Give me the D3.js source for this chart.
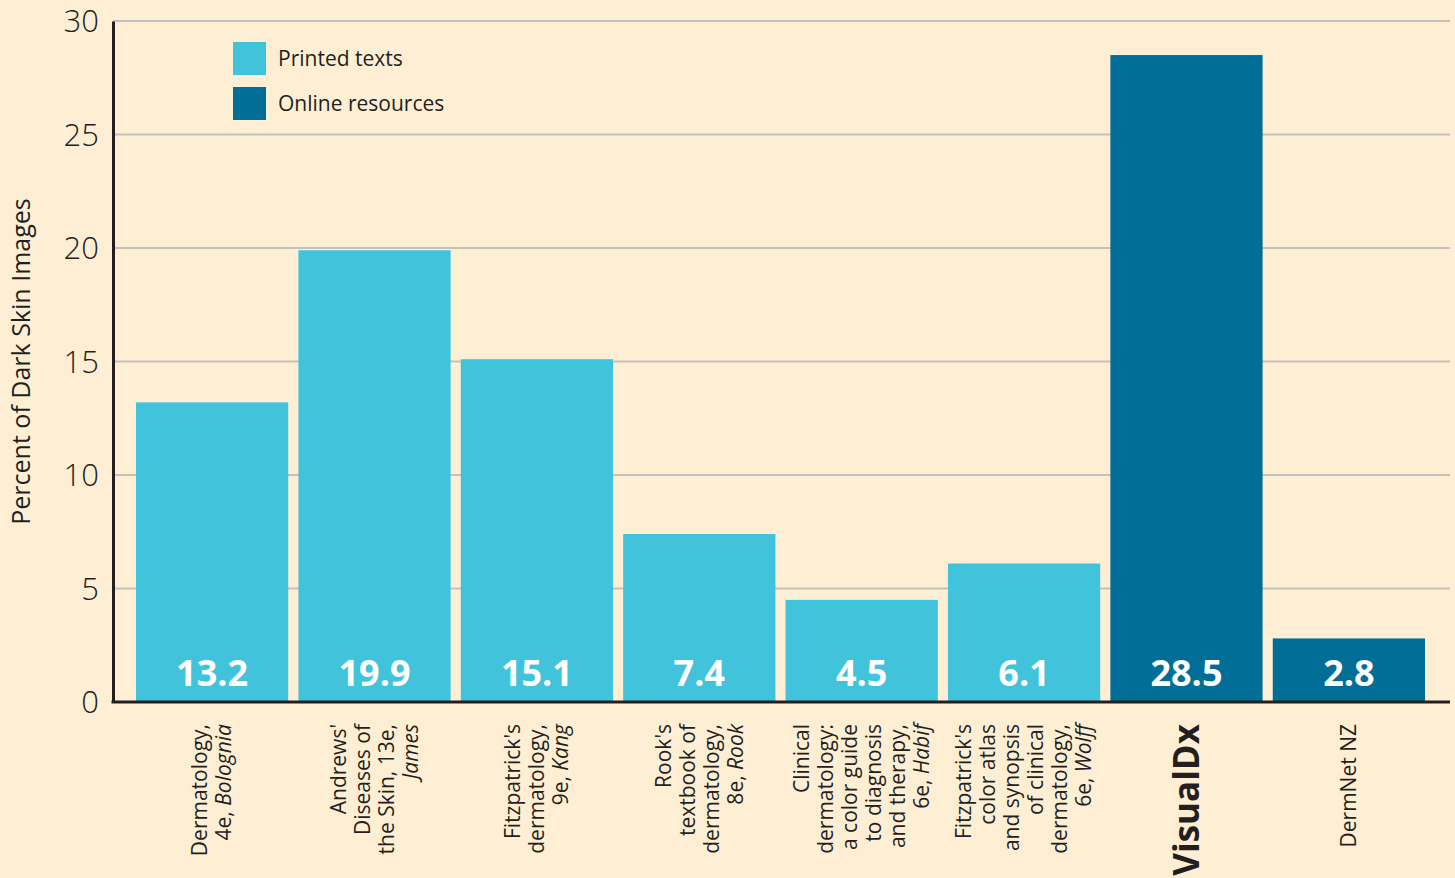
<!DOCTYPE html>
<html>
<head>
<meta charset="UTF-8">
<script src="https://d3js.org/d3.v7.min.js"></script>
<style>
  body { margin: 0; background: #FEEFD4; }
  svg text { font-family: "Open Sans", sans-serif; fill: #231F20; }
</style>
</head>
<body>
<svg class="Chart" width="1455" height="878"></svg>
<script>
// category labels: each line is [text, italicPart]
var categories = [
  [["Dermatology,", ""], ["4e, ", "Bolognia"]],
  [["Andrews'", ""], ["Diseases of", ""], ["the Skin, 13e,", ""], ["", "James"]],
  [["Fitzpatrick's", ""], ["dermatology,", ""], ["9e, ", "Kang"]],
  [["Rook's", ""], ["textbook of", ""], ["dermatology,", ""], ["8e, ", "Rook"]],
  [["Clinical", ""], ["dermatology:", ""], ["a color guide", ""], ["to diagnosis", ""], ["and therapy,", ""], ["6e, ", "Habif"]],
  [["Fitzpatrick's", ""], ["color atlas", ""], ["and synopsis", ""], ["of clinical", ""], ["dermatology,", ""], ["6e, ", "Wolff"]],
  [["VisualDx", ""]],
  [["DermNet NZ", ""]]
];
var values = [13.2, 19.9, 15.1, 7.4, 4.5, 6.1, 28.5, 2.8];
var types = ["Printed texts", "Printed texts", "Printed texts", "Printed texts", "Printed texts", "Printed texts", "Online resources", "Online resources"];
var seriesNames = ["Printed texts", "Online resources"];
var yTicks = [0, 5, 10, 15, 20, 25, 30];

var Color = d3.scaleOrdinal().domain(seriesNames).range(["#42C3DC", "#006E97"]);

var Left = 113, Right = 1450, Top = 21, Bottom = 702;
var svg = d3.select(".Chart");

var XScale = d3.scaleBand()
  .domain(d3.range(values.length))
  .range([136, 1425])
  .paddingInner(0.0625)
  .paddingOuter(0);
var YScale = d3.scaleLinear().domain([0, 30]).range([Bottom, Top]);

// grid lines
svg.append("g")
  .selectAll("line")
  .data(yTicks.filter(function(d){ return d > 0; }))
  .enter().append("line")
  .attr("x1", Left).attr("x2", Right)
  .attr("y1", function(d){ return YScale(d); })
  .attr("y2", function(d){ return YScale(d); })
  .attr("stroke", "#C3C1BE").attr("stroke-width", 2);

// bars
svg.append("g")
  .selectAll("rect")
  .data(values)
  .enter().append("rect")
  .attr("x", function(d, i){ return XScale(i); })
  .attr("y", function(d){ return YScale(d); })
  .attr("width", XScale.bandwidth())
  .attr("height", function(d){ return Bottom - YScale(d); })
  .attr("fill", function(d, i){ return Color(types[i]); });

// value labels
svg.append("g")
  .selectAll("text")
  .data(values)
  .enter().append("text")
  .attr("x", function(d, i){ return XScale(i) + XScale.bandwidth()/2; })
  .attr("y", Bottom - 16)
  .attr("text-anchor", "middle")
  .style("font-size", "36px")
  .style("font-weight", "bold")
  .style("fill", "#FFFFFF")
  .text(function(d){ return d.toFixed(1); });

// y axis
var YAxis = svg.append("g")
  .attr("transform", "translate(" + Left + ",0)")
  .call(d3.axisLeft(YScale).tickValues(yTicks).tickSize(0).tickPadding(14));
YAxis.select(".domain").attr("stroke", "#231F20").attr("stroke-width", 3);
YAxis.selectAll("text")
  .style("font-size", "31px")
  .style("font-weight", "300")
  .attr("font-family", null)
  .attr("dy", "0.34em");

// bottom axis line
svg.append("line")
  .attr("x1", Left - 1.5).attr("x2", Right)
  .attr("y1", Bottom).attr("y2", Bottom)
  .attr("stroke", "#231F20").attr("stroke-width", 3);

// y title
svg.append("text")
  .attr("transform", "translate(30," + ((Top + Bottom)/2) + ") rotate(-90)")
  .attr("text-anchor", "middle")
  .style("font-size", "25px")
  .text("Percent of Dark Skin Images");

// category labels
var LineH = 24;
var Cat = svg.append("g")
  .selectAll("g")
  .data(categories)
  .enter().append("g")
  .attr("transform", function(d, i){
    return "translate(" + (XScale(i) + XScale.bandwidth()/2) + "," + (Bottom + 22) + ") rotate(-90)";
  });
Cat.each(function(lines, i){
  var g = d3.select(this);
  var bold = (i === 6);
  var fs = bold ? 35 : 21;
  var n = lines.length;
  lines.forEach(function(ln, j){
    var t = g.append("text")
      .attr("x", 0)
      .attr("y", (j - (n - 1)/2) * LineH)
      .attr("dy", "0.35em")
      .attr("text-anchor", "end")
      .style("font-size", fs + "px")
      .style("font-weight", bold ? "bold" : "normal");
    if (ln[0]) t.append("tspan").text(ln[0]);
    if (ln[1]) t.append("tspan").style("font-style", "italic").text(ln[1]);
  });
});

// legend
var Legend = svg.append("g")
  .selectAll("g")
  .data(seriesNames)
  .enter().append("g")
  .attr("transform", function(d, i){ return "translate(233," + (42 + i*45) + ")"; });
Legend.append("rect")
  .attr("width", 33).attr("height", 33)
  .attr("fill", function(d){ return Color(d); });
Legend.append("text")
  .attr("x", 45).attr("y", 17).attr("dy", "0.35em")
  .style("font-size", "21px")
  .text(function(d){ return d; });
</script>
</body>
</html>
